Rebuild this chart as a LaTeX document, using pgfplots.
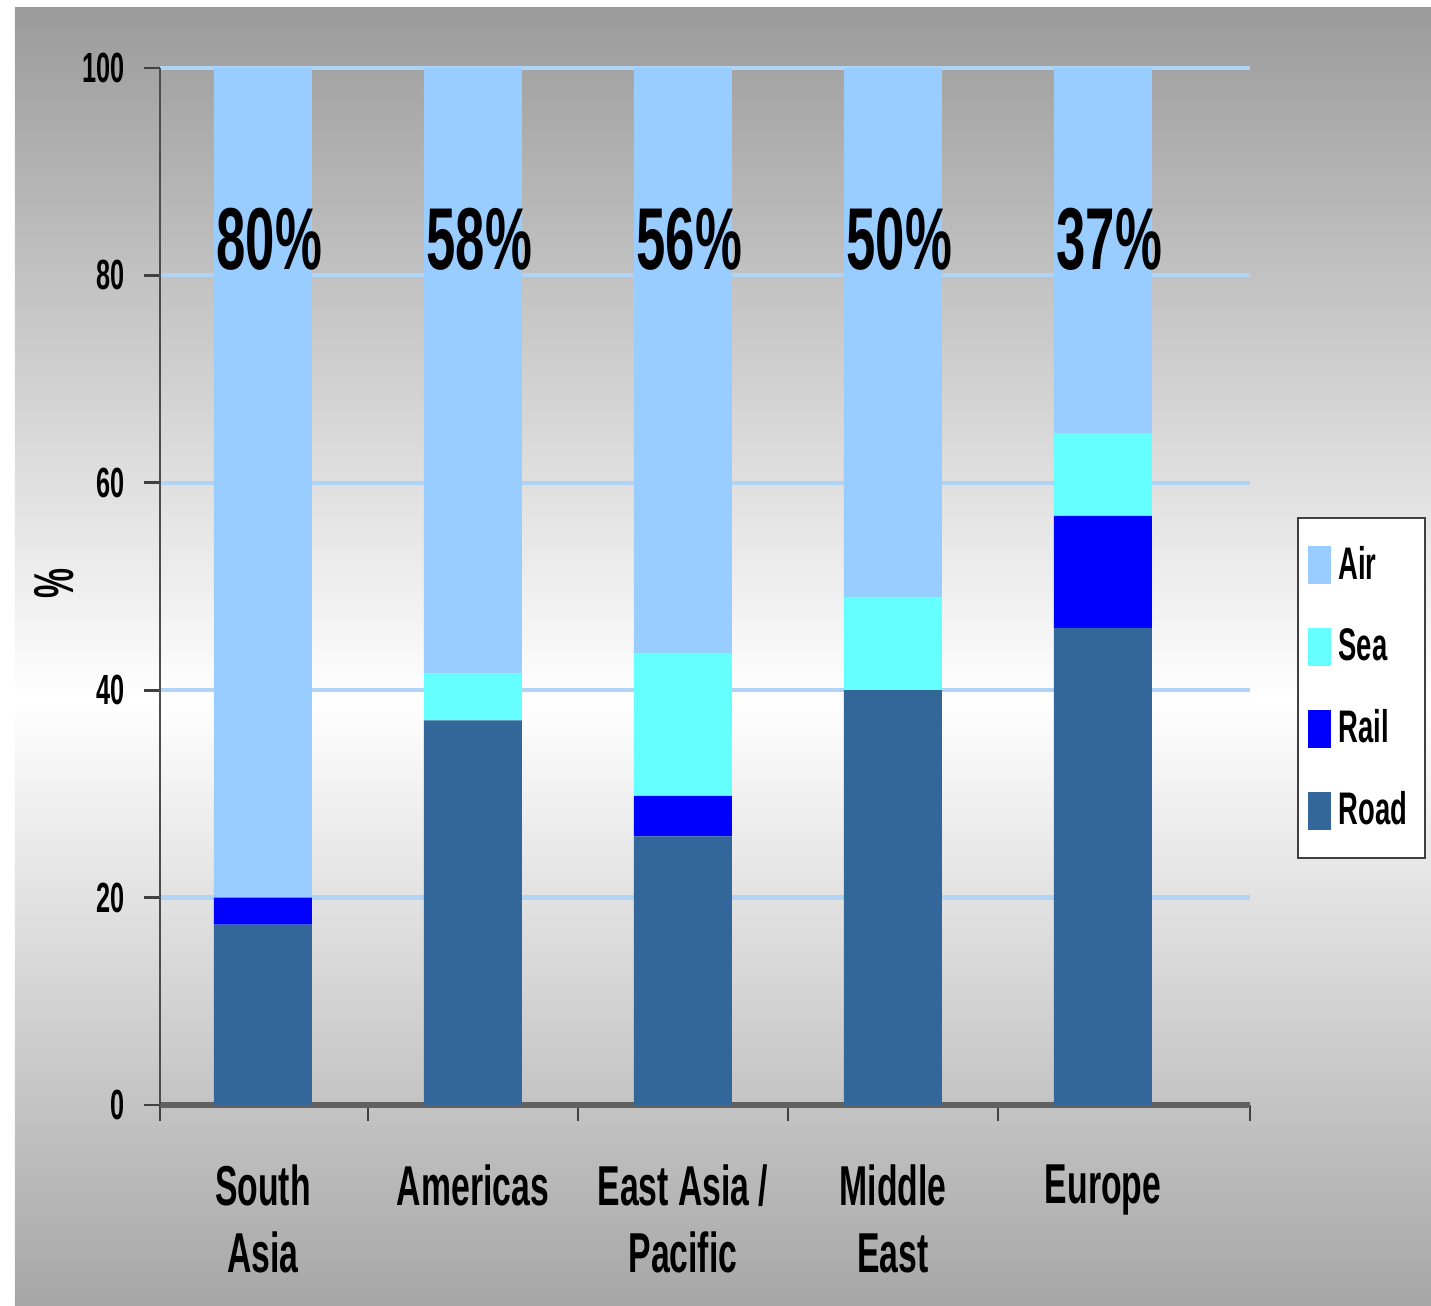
\documentclass[border=0pt]{standalone}
\usepackage{pgfplots}
\pgfplotsset{compat=1.18}
\usepackage{fontspec}
\setmainfont{Liberation Sans}[FakeStretch=0.6]
\definecolor{airc}{HTML}{99CCFF}
\definecolor{seac}{HTML}{66FFFF}
\definecolor{railc}{HTML}{0000FF}
\definecolor{roadc}{HTML}{336699}
\definecolor{gridc}{RGB}{175,212,245}
\definecolor{bgtop}{HTML}{9B9B9B}
\definecolor{bgbot}{HTML}{A6A6A6}
\begin{document}
\begin{tikzpicture}[x=1cm,y=1cm]
\useasboundingbox (0,0) rectangle (14.31,13.06);
\fill[white] (0,0) rectangle (14.31,13.06);
\shade[top color=bgtop, bottom color=white] (0.15,6.05) rectangle (14.31,12.98);
\shade[top color=white, bottom color=bgbot] (0.15,0) rectangle (14.31,6.07);
\begin{axis}[
  at={(1.60cm,2.01cm)}, anchor=south west,
  scale only axis, width=10.9cm, height=10.37cm,
  ybar stacked, bar width=0.98cm,
  xmin=-0.49, xmax=4.7, ymin=0, ymax=100,
  axis lines*=left,
  x axis line style={line width=1.8pt, draw=black!62},
  y axis line style={line width=0.8pt, draw=black!70},
  ytick={0,20,...,100},
  ymajorgrids, grid style={line width=1.2pt, gridc},
  xtick={-0.49,0.5,1.5,2.5,3.5,4.7},
  xticklabels={,,,,,},
  extra x ticks={0,1,2,3,4},
  extra x tick labels={South\\Asia, Americas, East Asia /\\Pacific, Middle\\East, Europe},
  extra x tick style={tick style={draw=none}, major tick length=0pt},
  tick align=outside, major tick length=4.5pt,
  tick style={line width=0.8pt, black!75},
  /pgf/number format/assume math mode=true,
  yticklabel style={font=\fontsize{12}{14}\bfseries, xshift=-2pt},
  xticklabel style={font=\fontsize{16}{19}\bfseries, align=center, yshift=-13.5pt},
  ylabel={\%},
  ylabel style={at={(axis description cs:-0.097,0.503)}, anchor=center, font=\fontsize{16}{19}\bfseries},
  reverse legend,
  legend cell align=left,
  legend style={at={(1.043,0.402)}, anchor=west, draw=black!75, line width=0.6pt, fill=white,
    font=\fontsize{13}{15}\bfseries, row sep=8.5pt, inner xsep=3pt, inner ysep=6pt},
]
\addplot[fill=roadc, draw=none, legend image code/.code={\fill[roadc] (0cm,-0.19cm) rectangle (0.23cm,0.19cm);}] coordinates {(0,17.4) (1,37.1) (2,25.9) (3,40.0) (4,46.0)};
\addplot[fill=railc, draw=none, legend image code/.code={\fill[railc] (0cm,-0.19cm) rectangle (0.23cm,0.19cm);}] coordinates {(0,2.6) (1,0) (2,3.9) (3,0) (4,10.8)};
\addplot[fill=seac, draw=none, legend image code/.code={\fill[seac] (0cm,-0.19cm) rectangle (0.23cm,0.19cm);}] coordinates {(0,0) (1,4.5) (2,13.8) (3,9.0) (4,8.0)};
\addplot[fill=airc, draw=none, legend image code/.code={\fill[airc] (0cm,-0.19cm) rectangle (0.23cm,0.19cm);}] coordinates {(0,80.0) (1,58.4) (2,56.4) (3,51.0) (4,35.2)};
\legend{Road,Rail,Sea,Air}
\coordinate (p0) at (axis cs:0.03,80.6);
\coordinate (p1) at (axis cs:1.03,80.6);
\coordinate (p2) at (axis cs:2.03,80.6);
\coordinate (p3) at (axis cs:3.03,80.6);
\coordinate (p4) at (axis cs:4.03,80.6);
\end{axis}
\begin{scope}[every node/.style={font=\fontsize{25}{30}\bfseries, anchor=base, inner sep=0pt}]
\node at (p0) {80\%};
\node at (p1) {58\%};
\node at (p2) {56\%};
\node at (p3) {50\%};
\node at (p4) {37\%};
\end{scope}
\end{tikzpicture}
\end{document}
